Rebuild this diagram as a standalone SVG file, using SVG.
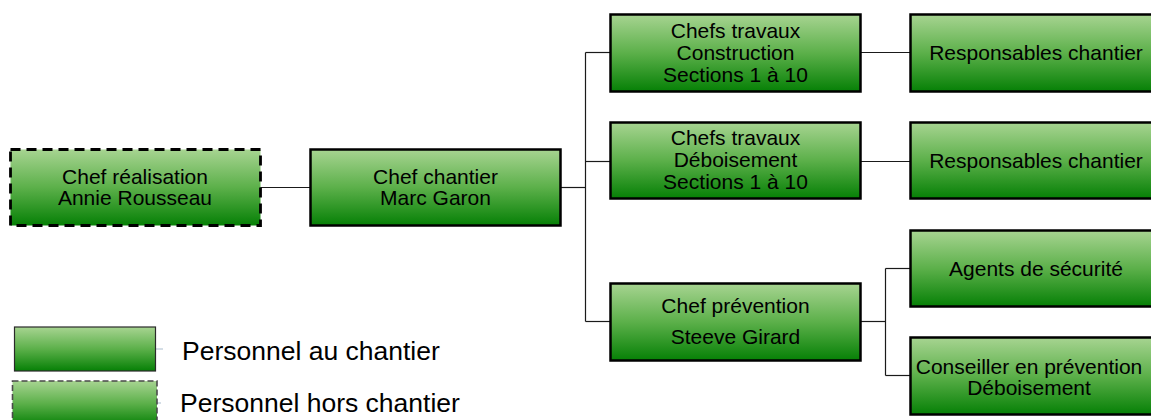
<svg xmlns="http://www.w3.org/2000/svg" width="1151" height="420" viewBox="0 0 1151 420">
  <defs>
    <linearGradient id="g" x1="0" y1="0" x2="0" y2="1">
      <stop offset="0" stop-color="#a7d491"/>
      <stop offset="0.5" stop-color="#5cb04a"/>
      <stop offset="1" stop-color="#068006"/>
    </linearGradient>
  </defs>
  <style>
    .box { fill: url(#g); stroke: #000; stroke-width: 2.5; }
    .off { fill: url(#g); stroke: #000; stroke-width: 2.8; stroke-dasharray: 10 6; }
    .t { font-family: "Liberation Sans", Arial, sans-serif; font-size: 21px; fill: #000; text-anchor: middle; }
    .lt { font-family: "Liberation Sans", Arial, sans-serif; font-size: 26.5px; fill: #000; }
    .c { fill: none; stroke: #1a1a1a; stroke-width: 1.2; }
  </style>
  <rect width="1151" height="420" fill="#fff"/>
  <g id="connectors">
    <path class="c" d="M260 187.5 H310"/>
    <path class="c" d="M560 187.5 H585.5"/>
    <path class="c" d="M585.5 52.5 V321.5"/>
    <path class="c" d="M585.5 52.5 H610"/>
    <path class="c" d="M585.5 161.5 H610"/>
    <path class="c" d="M585.5 321.5 H610"/>
    <path class="c" d="M860 52.5 H910"/>
    <path class="c" d="M860 161.5 H910"/>
    <path class="c" d="M860 321.5 H885.5"/>
    <path class="c" d="M885.5 268.5 V375.5"/>
    <path class="c" d="M885.5 268.5 H910"/>
    <path class="c" d="M885.5 375.5 H910"/>
  </g>
  <g id="chef-realisation">
    <rect class="off" x="10.5" y="149.5" width="250" height="76"/>
    <text class="t" x="135" y="183.5">Chef réalisation</text>
    <text class="t" x="135" y="204.5">Annie Rousseau</text>
  </g>
  <g id="chef-chantier">
    <rect class="box" x="310.5" y="149.5" width="250" height="76"/>
    <text class="t" x="435.5" y="183.5">Chef chantier</text>
    <text class="t" x="435.5" y="204.5">Marc Garon</text>
  </g>
  <g id="chefs-travaux-construction">
    <rect class="box" x="610.5" y="14.5" width="250" height="77"/>
    <text class="t" x="735.5" y="37.5">Chefs travaux</text>
    <text class="t" x="735.5" y="60">Construction</text>
    <text class="t" x="735.5" y="82">Sections 1 à 10</text>
  </g>
  <g id="responsables-chantier-1">
    <rect class="box" x="910.5" y="14.5" width="252" height="77"/>
    <text class="t" x="1036" y="60">Responsables chantier</text>
  </g>
  <g id="chefs-travaux-deboisement">
    <rect class="box" x="610.5" y="122.5" width="250" height="76"/>
    <text class="t" x="735.5" y="145">Chefs travaux</text>
    <text class="t" x="735.5" y="167">Déboisement</text>
    <text class="t" x="735.5" y="188.5">Sections 1 à 10</text>
  </g>
  <g id="responsables-chantier-2">
    <rect class="box" x="910.5" y="122.5" width="252" height="76"/>
    <text class="t" x="1036" y="168">Responsables chantier</text>
  </g>
  <g id="chef-prevention">
    <rect class="box" x="610.5" y="283.5" width="250" height="77"/>
    <text class="t" x="735.5" y="312.5">Chef prévention</text>
    <text class="t" x="735.5" y="343.5">Steeve Girard</text>
  </g>
  <g id="agents-securite">
    <rect class="box" x="910.5" y="230.5" width="252" height="76"/>
    <text class="t" x="1036" y="275.5">Agents de sécurité</text>
  </g>
  <g id="conseiller-prevention">
    <rect class="box" x="910.5" y="337.5" width="252" height="77"/>
    <text class="t" x="1029" y="373.5">Conseiller en prévention</text>
    <text class="t" x="1029" y="394.5">Déboisement</text>
  </g>
  <g id="legend">
    <line x1="155" y1="349" x2="163" y2="349" stroke="#a9bccd" stroke-width="1"/>
    <line x1="157" y1="403" x2="161" y2="403" stroke="#a9bccd" stroke-width="1"/>
    <rect x="14.5" y="327" width="141" height="44" fill="url(#g)" stroke="#2a2a2a" stroke-width="1.2"/>
    <rect x="12.5" y="381" width="144.5" height="45" fill="url(#g)" stroke="#4a4a4a" stroke-width="1.6" stroke-dasharray="6 3"/>
    <text class="lt" x="182" y="359.5">Personnel au chantier</text>
    <text class="lt" x="180" y="411.5">Personnel hors chantier</text>
  </g>
</svg>
